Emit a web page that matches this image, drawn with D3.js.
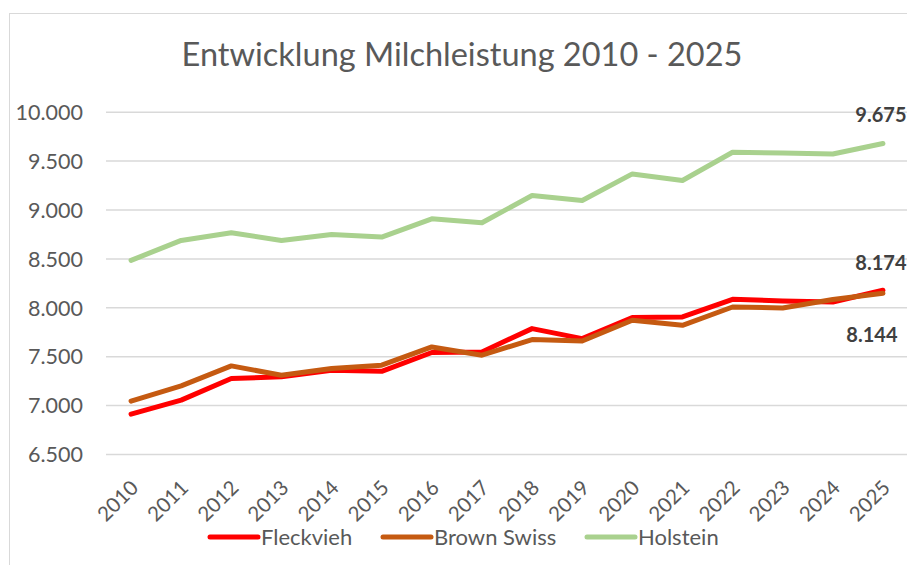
<!DOCTYPE html>
<html>
<head>
<meta charset="utf-8">
<script src="https://cdn.jsdelivr.net/npm/d3@7"></script>
<style>
  html, body { margin: 0; padding: 0; background: #fff; }
  svg { display: block; }
  text { font-family: Lato, "Open Sans", sans-serif; }
</style>
</head>
<body>
<svg id="chart" width="907" height="565"></svg>
<script>
const years = ["2010","2011","2012","2013","2014","2015","2016","2017","2018","2019","2020","2021","2022","2023","2024","2025"];
const fleckvieh   = [6908, 7051, 7272, 7289, 7357, 7345, 7538, 7544, 7782, 7680, 7895, 7901, 8082, 8065, 8054, 8174];
const brownSwiss  = [7041, 7197, 7401, 7306, 7374, 7408, 7595, 7510, 7670, 7656, 7867, 7816, 8003, 7993, 8080, 8144];
const holstein    = [8480, 8684, 8762, 8684, 8745, 8718, 8905, 8864, 9143, 9092, 9364, 9296, 9585, 9578, 9568, 9675];
const seriesNames = ["Fleckvieh", "Brown Swiss", "Holstein"];
const yTicks = [6500, 7000, 7500, 8000, 8500, 9000, 9500, 10000];
const title = "Entwicklung Milchleistung 2010 - 2025";

const colors = ["#ff0000", "#c55a11", "#a9d18e"];
const series = [fleckvieh, brownSwiss, holstein];

const svg = d3.select("#chart");
const de = d3.formatLocale({decimal: ",", thousands: ".", grouping: [3], currency: ["", " €"]});
const fmt = de.format(",");

// frame
svg.append("rect").attr("x", 9.5).attr("y", 13.5).attr("width", 1000).attr("height", 1000)
  .attr("fill", "#fff").attr("stroke", "#d9d9d9").attr("stroke-width", 1);

const x = d3.scalePoint().domain(years).range([106, 908]).padding(0.5);
const y = d3.scaleLinear().domain([6500, 10000]).range([454, 111.7]);

// title
svg.append("text").attr("x", 462).attr("y", 66).attr("text-anchor", "middle")
  .attr("font-size", 32.5).attr("fill", "#595959").text(title);

// gridlines + y labels
const yAxis = d3.axisLeft(y).tickValues(yTicks).tickSize(-(908 - 106)).tickFormat(fmt).tickPadding(23);
const gy = svg.append("g").attr("transform", "translate(106,0)").call(yAxis);
gy.select(".domain").remove();
gy.selectAll(".tick line").attr("stroke", "#d9d9d9").attr("stroke-width", 1.5);
gy.selectAll(".tick text").attr("font-size", 21.5).attr("fill", "#595959")
  .attr("font-family", "Lato, sans-serif").attr("dy", "0.36em");

// x axis labels
const xAxis = d3.axisBottom(x).tickSize(0).tickPadding(0);
const gx = svg.append("g").attr("transform", "translate(0,454)").call(xAxis);
gx.select(".domain").remove();
gx.selectAll(".tick text")
  .attr("font-size", 20.5).attr("fill", "#595959").attr("font-family", "Lato, sans-serif")
  .attr("text-anchor", "end").attr("dy", null).attr("y", null)
  .attr("transform", "translate(8,35) rotate(-45)");

// lines
const line = d3.line().x((d, i) => x(years[i])).y(d => y(d));
series.forEach((s, k) => {
  svg.append("path").datum(s).attr("d", line).attr("fill", "none")
    .attr("stroke", colors[k]).attr("stroke-width", 5)
    .attr("stroke-linejoin", "round").attr("stroke-linecap", "round");
});

// data labels for last point
const last = years.length - 1;
const lab = [
  {v: holstein[last], dx: -2, dy: -21},
  {v: fleckvieh[last], dx: -2, dy: -20},
  {v: brownSwiss[last], dx: -11, dy: 49}
];
lab.forEach(l => {
  svg.append("text").attr("x", x(years[last]) + l.dx).attr("y", y(l.v) + l.dy)
    .attr("text-anchor", "middle").attr("font-size", 20).attr("font-weight", "bold")
    .attr("fill", "#404040").text(fmt(l.v));
});

// legend
const legX = [210, 383, 587];
seriesNames.forEach((n, k) => {
  const g = svg.append("g").attr("transform", `translate(${legX[k]},537)`);
  g.append("line").attr("x1", 0).attr("x2", 48).attr("y1", 0).attr("y2", 0)
    .attr("stroke", colors[k]).attr("stroke-width", 5).attr("stroke-linecap", "round");
  g.append("text").attr("x", 51).attr("y", 7.5).attr("font-size", 22).attr("fill", "#595959").text(n);
});
</script>
</body>
</html>
